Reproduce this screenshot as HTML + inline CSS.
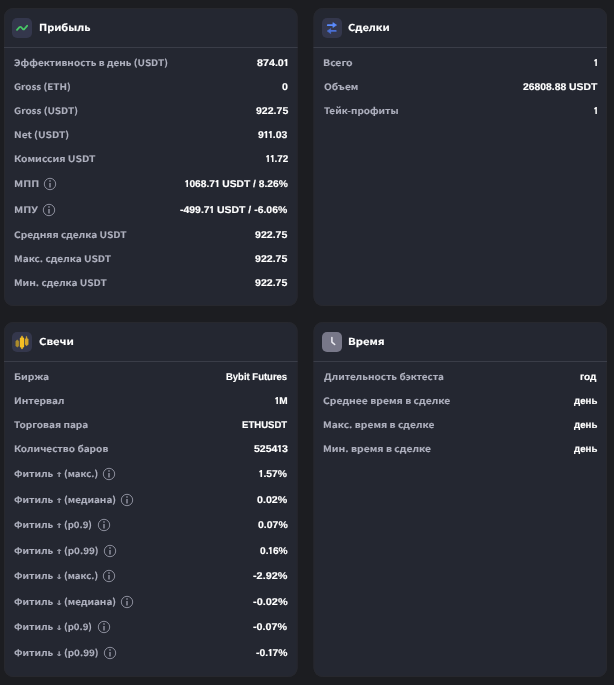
<!DOCTYPE html>
<html><head><meta charset="utf-8"><style>
*{box-sizing:border-box;margin:0;padding:0}
html,body{width:614px;height:685px;overflow:hidden;background:#1c1d21}
body{position:relative;font-family:"Liberation Sans","DejaVu Sans",sans-serif;text-rendering:geometricPrecision}
.ib{position:absolute;width:20px;height:20px;border-radius:5px}
.bgsvg{position:absolute;left:0;top:0}
.ib svg{position:absolute;left:0;top:0}
.l,.v,.t,.a{position:absolute;white-space:nowrap;line-height:12px;transform-origin:0 0;display:inline-block}
.l{font-family:"Noto Sans CJK JP","Liberation Sans",sans-serif;font-weight:bold;font-size:8.9px;color:#aeb0be;-webkit-text-stroke:0.1px #aeb0be}
.a{font-family:"DejaVu Sans",sans-serif;font-weight:bold;font-size:6.6px;color:#aeb0be}
.v{font-family:"Liberation Sans","DejaVu Sans",sans-serif;font-weight:bold;font-size:9.8px;color:#fff;-webkit-text-stroke:0.15px #fff}
.t{font-family:"Noto Sans CJK JP","Liberation Sans",sans-serif;font-weight:bold;font-size:9.6px;color:#fff;-webkit-text-stroke:0.15px #fff}
.n1{line-height:0;font-size:0.92em;font-weight:800;margin:0 -0.07em 0 -0.07em;font-family:"NanumGothic",sans-serif}
.inf{position:absolute}
</style></head><body>
<svg class="bgsvg" width="614" height="685" viewBox="0 0 614 685"><rect x="4" y="8" width="293.6" height="298" rx="9.0" fill="#242731"/><rect x="4.5" y="8.5" width="292.6" height="297" rx="8.5" fill="none" stroke="#27282e" stroke-width="1"/><rect x="4" y="47" width="293.6" height="1" fill="#3a3d48"/><rect x="313.5" y="8" width="293.5" height="298" rx="9.0" fill="#242731"/><rect x="314.0" y="8.5" width="292.5" height="297" rx="8.5" fill="none" stroke="#27282e" stroke-width="1"/><rect x="313.5" y="47" width="293.5" height="1" fill="#3a3d48"/><rect x="4" y="322" width="293.6" height="355" rx="9.0" fill="#242731"/><rect x="4.5" y="322.5" width="292.6" height="354" rx="8.5" fill="none" stroke="#27282e" stroke-width="1"/><rect x="4" y="361" width="293.6" height="1" fill="#3a3d48"/><rect x="313.5" y="322" width="293.5" height="355" rx="9.0" fill="#242731"/><rect x="314.0" y="322.5" width="292.5" height="354" rx="8.5" fill="none" stroke="#27282e" stroke-width="1"/><rect x="313.5" y="361" width="293.5" height="1" fill="#3a3d48"/></svg>
<div class="ib" style="left:12px;top:18px;background:#34374c"><svg width="20" height="20" viewBox="0 0 20 20"><path d="M5 11.9L7.5 9.2Q8.3 8.4 9.1 9.2L10.8 11Q11.6 11.8 12.4 11L15.1 7.8" fill="none" stroke="#48c866" stroke-width="1.8" stroke-linecap="round" stroke-linejoin="round"/></svg></div>
<div class="ib" style="left:322px;top:18px;background:#34374c"><svg width="20" height="20" viewBox="0 0 20 20"><path d="M5.75 7.2H11.5" stroke="#5b8cff" stroke-width="1.7" stroke-linecap="round"/><path d="M10.9 4.6L14.6 7.1L10.9 9.5Z" fill="#5b8cff" stroke="#5b8cff" stroke-width="0.6" stroke-linejoin="round"/><path d="M13.8 12.95H8.5" stroke="#4a70d6" stroke-width="1.7" stroke-linecap="round"/><path d="M8.7 10.6L5.2 13L8.7 15.6Z" fill="#4a70d6" stroke="#4a70d6" stroke-width="0.6" stroke-linejoin="round"/></svg></div>
<div class="ib" style="left:12px;top:332px;background:#34374c"><svg width="20" height="20" viewBox="0 0 20 20"><path d="M5.3 7.7L6.9 9.3V13.9L5.3 15.2L3.7 13.9V9.3Z" fill="#ab8b2d" stroke="#ab8b2d" stroke-width="0.3" stroke-linejoin="round"/><path d="M9.5 3.9H10.5L10.8 5.6L12 6.1V15L10.8 15.5L10.5 16.9H9.5L9.2 15.5L8 15V6.1L9.2 5.6Z" fill="#f6bf24" stroke="#f6bf24" stroke-width="0.3" stroke-linejoin="round"/><path d="M14.2 4.2L14.9 4.5L15.2 6.4L16.3 6.9V12.6L15.2 13.2L14.8 13.9H14.4L14.1 13.2L13 12.6V6.9L14 6.4Z" fill="#d4a52b" stroke="#d4a52b" stroke-width="0.3" stroke-linejoin="round"/></svg></div>
<div class="ib" style="left:322px;top:332px;background:#787889"><svg width="20" height="20" viewBox="0 0 20 20"><path d="M9.9 5.6V10.1L12.7 12.5" fill="none" stroke="#ececf2" stroke-width="1.5" stroke-linecap="round" stroke-linejoin="round"/></svg></div>
<span class="l" style="left:14.12px;top:57px;transform:scaleX(1.1243)">Эффективность в день (USDT)</span>
<span class="v" style="left:257.23px;top:58px;transform:scaleX(1.0945)">874.0<span class="n1">1</span></span>
<span class="l" style="left:14.12px;top:81px;transform:scaleX(1.1140)">Gross (ETH)</span>
<span class="v" style="left:281.93px;top:82px;transform:scaleX(1.0800)">0</span>
<span class="l" style="left:14.12px;top:105px;transform:scaleX(1.1250)">Gross (USDT)</span>
<span class="v" style="left:255.53px;top:106px;transform:scaleX(1.0780)">922.75</span>
<span class="l" style="left:13.54px;top:129px;transform:scaleX(1.1527)">Net (USDT)</span>
<span class="v" style="left:258.43px;top:130px;transform:scaleX(1.0704)">9<span class="n1">1</span><span class="n1">1</span>.03</span>
<span class="l" style="left:13.53px;top:153px;transform:scaleX(1.1638)">Комиссия USDT</span>
<span class="v" style="left:265.65px;top:154px;transform:scaleX(1.0093)"><span class="n1">1</span><span class="n1">1</span>.72</span>
<span class="l" style="left:13.69px;top:178px;transform:scaleX(1.2103)">МПП</span>
<span class="v" style="left:184.84px;top:179px;transform:scaleX(1.0459)"><span class="n1">1</span>068.7<span class="n1">1</span> USDT / 8.26%</span>
<span class="l" style="left:13.69px;top:204px;transform:scaleX(1.2158)">МПУ</span>
<span class="v" style="left:180.43px;top:205px;transform:scaleX(1.0663)">-499.7<span class="n1">1</span> USDT / -6.06%</span>
<span class="l" style="left:14.11px;top:229px;transform:scaleX(1.1439)">Средняя сделка USDT</span>
<span class="v" style="left:255.43px;top:230px;transform:scaleX(1.0814)">922.75</span>
<span class="l" style="left:13.74px;top:253px;transform:scaleX(1.1429)">Макс. сделка USDT</span>
<span class="v" style="left:255.43px;top:254px;transform:scaleX(1.0814)">922.75</span>
<span class="l" style="left:13.75px;top:277px;transform:scaleX(1.1381)">Мин. сделка USDT</span>
<span class="v" style="left:255.43px;top:278px;transform:scaleX(1.0814)">922.75</span>
<span class="l" style="left:322.91px;top:57px;transform:scaleX(1.1833)">Всего</span>
<span class="v" style="left:593.90px;top:58px;transform:scaleX(1.0000)"><span class="n1">1</span></span>
<span class="l" style="left:323.51px;top:81px;transform:scaleX(1.1453)">Объем</span>
<span class="v" style="left:522.64px;top:82px;transform:scaleX(1.0571)">26808.88 USDT</span>
<span class="l" style="left:323.52px;top:105px;transform:scaleX(1.1167)">Тейк-профиты</span>
<span class="v" style="left:593.90px;top:106px;transform:scaleX(1.0000)"><span class="n1">1</span></span>
<span class="l" style="left:13.53px;top:371px;transform:scaleX(1.1652)">Биржа</span>
<span class="v" style="left:226.32px;top:372px;transform:scaleX(0.9680)">Bybit Futures</span>
<span class="l" style="left:13.55px;top:395px;transform:scaleX(1.1372)">Интервал</span>
<span class="v" style="left:274.94px;top:396px;transform:scaleX(1.0298)"><span class="n1">1</span>M</span>
<span class="l" style="left:14.12px;top:419px;transform:scaleX(1.1364)">Торговая пара</span>
<span class="v" style="left:242.11px;top:420px;transform:scaleX(0.9770)">ETHUSDT</span>
<span class="l" style="left:13.55px;top:443px;transform:scaleX(1.1343)">Количество баров</span>
<span class="v" style="left:253.63px;top:444px;transform:scaleX(1.0774)">5254<span class="n1">1</span>3</span>
<span class="l" style="left:14.12px;top:468px;transform:scaleX(1.1270)">Фитиль </span>
<span class="a" style="left:54.92px;top:469px;transform:scaleX(1.5000)">↑ </span>
<span class="l" style="left:64.18px;top:468px;transform:scaleX(1.0924)">(макс.)</span>
<span class="v" style="left:259.34px;top:469px;transform:scaleX(1.0552)"><span class="n1">1</span>.57%</span>
<span class="l" style="left:14.12px;top:494px;transform:scaleX(1.1270)">Фитиль </span>
<span class="a" style="left:54.92px;top:495px;transform:scaleX(1.5000)">↑ </span>
<span class="l" style="left:64.16px;top:494px;transform:scaleX(1.1244)">(медиана)</span>
<span class="v" style="left:257.13px;top:495px;transform:scaleX(1.0873)">0.02%</span>
<span class="l" style="left:14.12px;top:519px;transform:scaleX(1.1270)">Фитиль </span>
<span class="a" style="left:54.92px;top:520px;transform:scaleX(1.5000)">↑ </span>
<span class="l" style="left:64.19px;top:519px;transform:scaleX(1.0857)">(p0.9)</span>
<span class="v" style="left:257.63px;top:520px;transform:scaleX(1.0691)">0.07%</span>
<span class="l" style="left:14.12px;top:545px;transform:scaleX(1.1270)">Фитиль </span>
<span class="a" style="left:54.92px;top:546px;transform:scaleX(1.5000)">↑ </span>
<span class="l" style="left:64.16px;top:545px;transform:scaleX(1.1160)">(p0.99)</span>
<span class="v" style="left:259.74px;top:546px;transform:scaleX(1.0400)">0.<span class="n1">1</span>6%</span>
<span class="l" style="left:14.12px;top:570px;transform:scaleX(1.1270)">Фитиль </span>
<span class="a" style="left:54.92px;top:571px;transform:scaleX(1.5000)">↓ </span>
<span class="l" style="left:64.18px;top:570px;transform:scaleX(1.0924)">(макс.)</span>
<span class="v" style="left:253.02px;top:571px;transform:scaleX(1.1057)">-2.92%</span>
<span class="l" style="left:14.12px;top:596px;transform:scaleX(1.1270)">Фитиль </span>
<span class="a" style="left:54.92px;top:597px;transform:scaleX(1.5000)">↓ </span>
<span class="l" style="left:64.16px;top:596px;transform:scaleX(1.1244)">(медиана)</span>
<span class="v" style="left:252.72px;top:597px;transform:scaleX(1.1154)">-0.02%</span>
<span class="l" style="left:14.12px;top:621px;transform:scaleX(1.1270)">Фитиль </span>
<span class="a" style="left:54.92px;top:622px;transform:scaleX(1.5000)">↓ </span>
<span class="l" style="left:64.19px;top:621px;transform:scaleX(1.0857)">(p0.9)</span>
<span class="v" style="left:253.33px;top:622px;transform:scaleX(1.0959)">-0.07%</span>
<span class="l" style="left:14.12px;top:647px;transform:scaleX(1.1270)">Фитиль </span>
<span class="a" style="left:54.92px;top:648px;transform:scaleX(1.5000)">↓ </span>
<span class="l" style="left:64.16px;top:647px;transform:scaleX(1.1160)">(p0.99)</span>
<span class="v" style="left:255.94px;top:648px;transform:scaleX(1.0542)">-0.<span class="n1">1</span>7%</span>
<span class="l" style="left:323.50px;top:371px;transform:scaleX(1.1245)">Длительность бэктеста</span>
<span class="v" style="left:580.49px;top:372px;transform:scaleX(1.0194)">год</span>
<span class="l" style="left:323.21px;top:395px;transform:scaleX(1.1624)">Среднее время в сделке</span>
<span class="v" style="left:573.80px;top:396px;transform:scaleX(0.9892)">день</span>
<span class="l" style="left:322.63px;top:419px;transform:scaleX(1.1550)">Макс. время в сделке</span>
<span class="v" style="left:573.80px;top:420px;transform:scaleX(0.9892)">день</span>
<span class="l" style="left:322.63px;top:443px;transform:scaleX(1.1598)">Мин. время в сделке</span>
<span class="v" style="left:573.80px;top:444px;transform:scaleX(0.9892)">день</span>
<span class="t" style="left:38.55px;top:21px;transform:scaleX(1.1390)">Прибыль</span>
<span class="t" style="left:347.81px;top:21px;transform:scaleX(1.1521)">Сделки</span>
<span class="t" style="left:38.61px;top:335px;transform:scaleX(1.1724)">Свечи</span>
<span class="t" style="left:347.82px;top:335px;transform:scaleX(1.1733)">Время</span>
<svg class="inf" style="left:43.00px;top:177.00px" width="14" height="14" viewBox="0 0 14 14"><circle cx="7" cy="7" r="5.7" fill="none" stroke="#8c8e9c" stroke-width="1"/><rect x="6.25" y="3.25" width="1.5" height="1.45" fill="#8c8e9c"/><rect x="6.25" y="6" width="1.5" height="4.5" fill="#8c8e9c"/></svg>
<svg class="inf" style="left:41.95px;top:203.00px" width="14" height="14" viewBox="0 0 14 14"><circle cx="7" cy="7" r="5.7" fill="none" stroke="#8c8e9c" stroke-width="1"/><rect x="6.25" y="3.25" width="1.5" height="1.45" fill="#8c8e9c"/><rect x="6.25" y="6" width="1.5" height="4.5" fill="#8c8e9c"/></svg>
<svg class="inf" style="left:102.00px;top:467.00px" width="14" height="14" viewBox="0 0 14 14"><circle cx="7" cy="7" r="5.7" fill="none" stroke="#8c8e9c" stroke-width="1"/><rect x="6.25" y="3.25" width="1.5" height="1.45" fill="#8c8e9c"/><rect x="6.25" y="6" width="1.5" height="4.5" fill="#8c8e9c"/></svg>
<svg class="inf" style="left:119.95px;top:493.00px" width="14" height="14" viewBox="0 0 14 14"><circle cx="7" cy="7" r="5.7" fill="none" stroke="#8c8e9c" stroke-width="1"/><rect x="6.25" y="3.25" width="1.5" height="1.45" fill="#8c8e9c"/><rect x="6.25" y="6" width="1.5" height="4.5" fill="#8c8e9c"/></svg>
<svg class="inf" style="left:96.80px;top:518.00px" width="14" height="14" viewBox="0 0 14 14"><circle cx="7" cy="7" r="5.7" fill="none" stroke="#8c8e9c" stroke-width="1"/><rect x="6.25" y="3.25" width="1.5" height="1.45" fill="#8c8e9c"/><rect x="6.25" y="6" width="1.5" height="4.5" fill="#8c8e9c"/></svg>
<svg class="inf" style="left:103.00px;top:544.00px" width="14" height="14" viewBox="0 0 14 14"><circle cx="7" cy="7" r="5.7" fill="none" stroke="#8c8e9c" stroke-width="1"/><rect x="6.25" y="3.25" width="1.5" height="1.45" fill="#8c8e9c"/><rect x="6.25" y="6" width="1.5" height="4.5" fill="#8c8e9c"/></svg>
<svg class="inf" style="left:102.00px;top:569.00px" width="14" height="14" viewBox="0 0 14 14"><circle cx="7" cy="7" r="5.7" fill="none" stroke="#8c8e9c" stroke-width="1"/><rect x="6.25" y="3.25" width="1.5" height="1.45" fill="#8c8e9c"/><rect x="6.25" y="6" width="1.5" height="4.5" fill="#8c8e9c"/></svg>
<svg class="inf" style="left:119.95px;top:595.00px" width="14" height="14" viewBox="0 0 14 14"><circle cx="7" cy="7" r="5.7" fill="none" stroke="#8c8e9c" stroke-width="1"/><rect x="6.25" y="3.25" width="1.5" height="1.45" fill="#8c8e9c"/><rect x="6.25" y="6" width="1.5" height="4.5" fill="#8c8e9c"/></svg>
<svg class="inf" style="left:96.80px;top:620.00px" width="14" height="14" viewBox="0 0 14 14"><circle cx="7" cy="7" r="5.7" fill="none" stroke="#8c8e9c" stroke-width="1"/><rect x="6.25" y="3.25" width="1.5" height="1.45" fill="#8c8e9c"/><rect x="6.25" y="6" width="1.5" height="4.5" fill="#8c8e9c"/></svg>
<svg class="inf" style="left:103.00px;top:646.00px" width="14" height="14" viewBox="0 0 14 14"><circle cx="7" cy="7" r="5.7" fill="none" stroke="#8c8e9c" stroke-width="1"/><rect x="6.25" y="3.25" width="1.5" height="1.45" fill="#8c8e9c"/><rect x="6.25" y="6" width="1.5" height="4.5" fill="#8c8e9c"/></svg>
</body></html>
